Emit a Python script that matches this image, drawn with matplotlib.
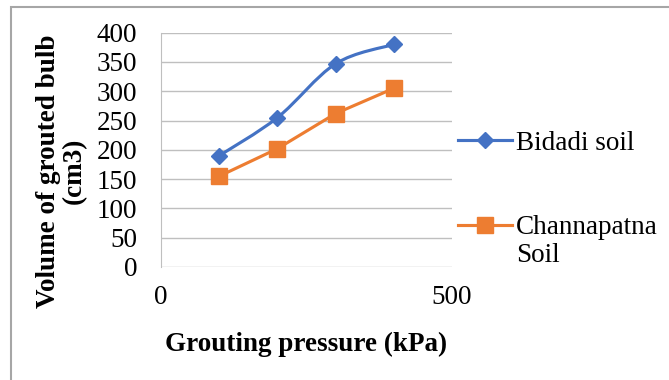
import matplotlib
matplotlib.use('Agg')
import matplotlib.pyplot as plt
import numpy as np
from matplotlib.path import Path
from matplotlib.patches import PathPatch, Rectangle
from matplotlib.lines import Line2D

pressure = [100, 200, 300, 400]
bidadi = [190, 255, 347, 380]
channapatna = [155, 202, 262, 305]
series_names = ['Bidadi soil', 'Channapatna\nSoil']

blue = '#4472C4'
orange = '#ED7D31'
fs = 19.5
W, H = 669, 380

plt.rcParams['font.family'] = ['Liberation Serif', 'DejaVu Serif']

fig = plt.figure(figsize=(W / 100, H / 100), dpi=100)
ax = fig.add_axes([161/W, 1 - 267/H, (452 - 161)/W, (267 - 32.7)/H])

# outer chart border (only top/left visible in the reference)
fig.patches.append(Rectangle((11/W, -0.5), 2, 0.5 + 1 - 7/H,
                             transform=fig.transFigure, fill=False,
                             edgecolor='#a6a6a6', linewidth=1.5))


def smooth_path(x, y, tension=0.5):
    # excel-like smoothed line: cubic bezier through the data points
    x = np.asarray(x, float)
    y = np.asarray(y, float)
    verts = [(x[0], y[0])]
    codes = [Path.MOVETO]
    n = len(x)
    for i in range(n - 1):
        x0, y0 = (x[i - 1], y[i - 1]) if i > 0 else (x[i], y[i])
        x3, y3 = (x[i + 2], y[i + 2]) if i + 2 < n else (x[i + 1], y[i + 1])
        c1 = (x[i] + (x[i + 1] - x0) * tension / 3,
              y[i] + (y[i + 1] - y0) * tension / 3)
        c2 = (x[i + 1] - (x3 - x[i]) * tension / 3,
              y[i + 1] - (y3 - y[i]) * tension / 3)
        verts += [c1, c2, (x[i + 1], y[i + 1])]
        codes += [Path.CURVE4] * 3
    return Path(verts, codes)


ax.add_patch(PathPatch(smooth_path(pressure, bidadi, 0.5), fill=False,
                       edgecolor=blue, linewidth=2.25, zorder=3))
ax.plot(pressure, bidadi, linestyle='none', marker='D', markersize=8,
        color=blue, zorder=4)
ax.plot(pressure, channapatna, color=orange, linewidth=2.25, marker='s',
        markersize=11, zorder=3)

ax.set_xlim(0, 500)
ax.set_ylim(0, 400)
ax.set_xticks([0, 500])
ax.set_yticks(np.arange(0, 401, 50))
ax.yaxis.grid(True, color='#bfbfbf', linewidth=1)
ax.set_axisbelow(True)
for s in ['top', 'right', 'bottom']:
    ax.spines[s].set_visible(False)
ax.spines['left'].set_color('#bfbfbf')
ax.tick_params(axis='both', length=0, labelsize=fs)
ax.tick_params(axis='x', pad=13)
ax.tick_params(axis='y', pad=17)

ax.set_xlabel('Grouting pressure (kPa)', fontsize=fs, fontweight='bold',
              labelpad=16)
ax.set_ylabel('Volume of grouted bulb\n(cm3)', fontsize=fs,
              fontweight='bold', linespacing=1.05, labelpad=7)
ax.yaxis.label.set_y(0.41)

# legend drawn by hand so the orange key sits on the first text line
key_x0, key_x1, text_x = 458, 512, 516
rows = [(140, 'D', 8, blue), (225, 's', 11, orange)]
for (yc, mk, ms, col), name in zip(rows, series_names):
    fy = 1 - yc / H
    fig.add_artist(Line2D([key_x0 / W, key_x1 / W], [fy, fy],
                          transform=fig.transFigure, color=col,
                          linewidth=2.25))
    fig.add_artist(Line2D([(key_x0 + key_x1) / 2 / W], [fy],
                          transform=fig.transFigure, color=col,
                          marker=mk, markersize=ms, linestyle='none'))
    lines = name.split('\n')
    for k, line in enumerate(lines):
        fig.text(text_x / W, 1 - (yc + 28 * k) / H, line, fontsize=fs,
                 ha='left', va='center_baseline')

fig.savefig('out.png', dpi=100)
